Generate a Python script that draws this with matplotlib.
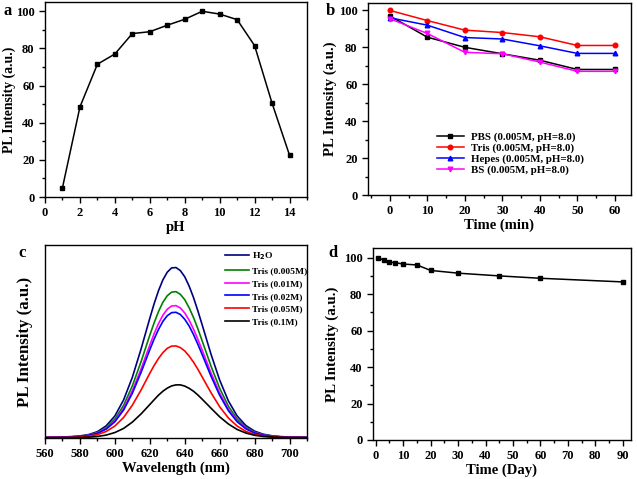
import matplotlib
matplotlib.use('Agg')
import matplotlib.pyplot as plt
from matplotlib.ticker import MultipleLocator, NullLocator

plt.rcParams['font.family'] = ['Liberation Serif', 'DejaVu Serif']
plt.rcParams['font.weight'] = 'bold'
plt.rcParams['axes.labelweight'] = 'bold'
plt.rcParams['mathtext.default'] = 'bf'

# ---- panel a: pH ----
ph = [1, 2, 3, 4, 5, 6, 7, 8, 9, 10, 11, 12, 13, 14]
ph_pl = [5, 48.5, 71.5, 77, 88, 89, 92.5, 95.7, 100, 98.5, 95.5, 81.5, 50.5, 22.5]

# ---- panel b: buffers over time ----
t_min = [0, 10, 20, 30, 40, 50, 60]
pbs = [97, 85.5, 80, 76.5, 73, 68, 68]
tris = [100, 94.5, 89.3, 88, 85.7, 81, 81]
hepes = [96, 92, 85.3, 84.5, 80.8, 76.7, 76.7]
bs = [95.5, 87.5, 77.3, 76.5, 72, 67, 67]
buffer_labels = ['PBS (0.005M, pH=8.0)', 'Tris (0.005M, pH=8.0)',
                 'Hepes (0.005M, pH=8.0)', 'BS (0.005M, pH=8.0)']

# ---- panel c: spectra ----
wl = [560, 565, 570, 575, 580, 585, 590, 595, 600, 605, 610, 615, 620,
      622.5, 625, 627.5, 630, 632.5, 635, 637.5, 640, 642.5, 645, 647.5,
      650, 655, 660, 665, 670, 675, 680, 685, 690, 695, 700, 705, 710]
spec_h2o = [0.4, 0.5, 0.6, 0.8, 1.2, 2.0, 3.7, 7.1, 12.9, 22.3, 35.5, 52.1, 70.1,
            78.7, 86.3, 92.6, 97.1, 99.6, 99.8, 98.0, 94.4, 89.0, 82.3, 74.5,
            66.2, 49.2, 33.9, 21.7, 12.9, 7.3, 4.0, 2.2, 1.3, 0.8, 0.6, 0.5, 0.4]
spec_005 = [0.4, 0.4, 0.5, 0.7, 1.0, 1.7, 3.2, 6.0, 11.1, 19.1, 30.5, 44.7, 60.2,
            67.5, 74.1, 79.5, 83.3, 85.4, 85.7, 84.1, 81.0, 76.3, 70.6, 64.0,
            56.8, 42.2, 29.1, 18.6, 11.1, 6.3, 3.4, 1.9, 1.1, 0.7, 0.5, 0.4, 0.4]
spec_01 = [0.3, 0.4, 0.5, 0.6, 0.9, 1.6, 2.9, 5.5, 10.0, 17.3, 27.6, 40.4, 54.4,
           61.1, 67.0, 71.9, 75.4, 77.3, 77.5, 76.1, 73.2, 69.0, 63.8, 57.8,
           51.4, 38.2, 26.3, 16.8, 10.0, 5.7, 3.1, 1.7, 1.0, 0.6, 0.5, 0.4, 0.3]
spec_02 = [0.3, 0.4, 0.4, 0.6, 0.9, 1.5, 2.7, 5.2, 9.5, 16.4, 26.2, 38.4, 51.7,
           58.0, 63.6, 68.3, 71.6, 73.4, 73.6, 72.3, 69.5, 65.6, 60.6, 54.9,
           48.8, 36.3, 25.0, 16.0, 9.5, 5.4, 2.9, 1.6, 0.9, 0.6, 0.4, 0.4, 0.3]
spec_05 = [0.2, 0.3, 0.3, 0.4, 0.6, 1.1, 2.0, 3.8, 7.0, 12.0, 19.2, 28.1, 37.9,
           42.5, 46.6, 50.0, 52.5, 53.8, 53.9, 52.9, 51.0, 48.0, 44.4, 40.3,
           35.7, 26.6, 18.3, 11.7, 7.0, 3.9, 2.1, 1.2, 0.7, 0.4, 0.3, 0.3, 0.2]
spec_1 = [0.1, 0.1, 0.2, 0.2, 0.3, 0.5, 0.9, 1.7, 3.2, 5.6, 9.3, 14.1, 19.6,
          22.4, 25.1, 27.4, 29.2, 30.5, 31.1, 31.1, 30.4, 29.1, 27.4, 25.2,
          22.7, 17.5, 12.4, 8.2, 5.0, 2.9, 1.6, 0.9, 0.5, 0.3, 0.2, 0.2, 0.1]
spec_labels = ['H$_2$O', 'Tris (0.005M)', 'Tris (0.01M)', 'Tris (0.02M)',
               'Tris (0.05M)', 'Tris (0.1M)']
spec_colors = ['#000080', '#008000', '#ff00ff', '#0000ff', '#ff0000', '#000000']

# ---- panel d: storage ----
days = [1, 3, 5, 7, 10, 15, 20, 30, 45, 60, 90]
days_pl = [100, 98.5, 97.5, 97.3, 96.5, 96, 93, 91.5, 90, 88.7, 86.7]

W, H = 637, 479
fig = plt.figure(figsize=(W / 100, H / 100), dpi=100)


def box(l, t, r, b):
    return [l / W, (H - b) / H, (r - l) / W, (b - t) / H]


def style(ax):
    for s in ax.spines.values():
        s.set_linewidth(1.0)
    ax.tick_params(which='both', direction='out', top=False, right=False,
                   labelsize=9, width=1.0)
    ax.tick_params(which='major', length=4)
    ax.tick_params(which='minor', length=2)


def ylab(ax, size, xfrac):
    ax.set_ylabel('PL Intensity (a.u.)', fontsize=size)
    ax.yaxis.set_label_coords(xfrac, 0.5)


lw, ms = 1.1, 3.3

# a
ax = fig.add_axes(box(45, 2, 307, 197))
ax.plot(ph, ph_pl, 's-', color='black', lw=lw, ms=ms)
ax.set_xlim(0, 15)
ax.set_ylim(0, 105)
ax.xaxis.set_major_locator(MultipleLocator(2))
ax.xaxis.set_minor_locator(MultipleLocator(1))
ax.yaxis.set_major_locator(MultipleLocator(20))
ax.yaxis.set_minor_locator(MultipleLocator(10))
ax.set_xlabel('pH', fontsize=10.5, labelpad=1)
ylab(ax, 9.9, -0.111)
style(ax)

# b
ax = fig.add_axes(box(368, 3, 631, 195))
ax.plot(t_min, pbs, 's-', color='black', lw=lw, ms=ms, label=buffer_labels[0])
ax.plot(t_min, tris, 'o-', color='#ff0000', lw=lw, ms=ms, label=buffer_labels[1])
ax.plot(t_min, hepes, '^-', color='#0000ff', lw=lw, ms=ms, label=buffer_labels[2])
ax.plot(t_min, bs, 'v-', color='#ff00ff', lw=lw, ms=ms, label=buffer_labels[3])
ax.set_xlim(-5.8, 64.3)
ax.set_ylim(0, 104)
ax.xaxis.set_major_locator(MultipleLocator(10))
ax.xaxis.set_minor_locator(MultipleLocator(5))
ax.yaxis.set_major_locator(MultipleLocator(20))
ax.yaxis.set_minor_locator(MultipleLocator(10))
ax.set_xlabel('Time (min)', fontsize=10.5, labelpad=1)
ylab(ax, 10.7, -0.118)
ax.legend(loc='upper left', bbox_to_anchor=(0.24, 0.357), frameon=False,
          fontsize=7.8, handlelength=2.5, handletextpad=0.7, labelspacing=0.12,
          borderpad=0)
style(ax)

# c
ax = fig.add_axes(box(45, 245, 307, 438))
specs = [spec_h2o, spec_005, spec_01, spec_02, spec_05, spec_1]
for ys, lab, c in zip(specs, spec_labels, spec_colors):
    ax.plot(wl, ys, color=c, lw=1.2, label=lab)
ax.set_xlim(560, 710)
ax.set_ylim(0, 113)
ax.xaxis.set_major_locator(MultipleLocator(20))
ax.xaxis.set_minor_locator(MultipleLocator(10))
ax.yaxis.set_major_locator(NullLocator())
ax.set_xlabel('Wavelength (nm)', fontsize=10.5, labelpad=1)
ylab(ax, 12.1, -0.046)
ax.legend(loc='upper left', bbox_to_anchor=(0.67, 0.995), frameon=False,
          fontsize=6.8, handlelength=2.5, handletextpad=0.35, labelspacing=0.45,
          borderpad=0)
style(ax)

# d
ax = fig.add_axes(box(373, 248, 631, 440))
ax.plot(days, days_pl, 's-', color='black', lw=lw, ms=ms)
ax.set_xlim(-1, 93)
ax.set_ylim(0, 105.3)
ax.xaxis.set_major_locator(MultipleLocator(10))
ax.xaxis.set_minor_locator(MultipleLocator(5))
ax.yaxis.set_major_locator(MultipleLocator(20))
ax.yaxis.set_minor_locator(MultipleLocator(10))
ax.set_xlabel('Time (Day)', fontsize=10.5, labelpad=1)
ylab(ax, 10.8, -0.132)
style(ax)

# panel letters
for lx, ly, s in [(4, 11, 'a'), (326, 11, 'b'), (18, 253, 'c'), (328, 253, 'd')]:
    fig.text(lx / W, 1 - ly / H, s, fontsize=12, fontweight='bold', va='center')

plt.savefig('out.png', dpi=100, facecolor='white')
plt.close()
